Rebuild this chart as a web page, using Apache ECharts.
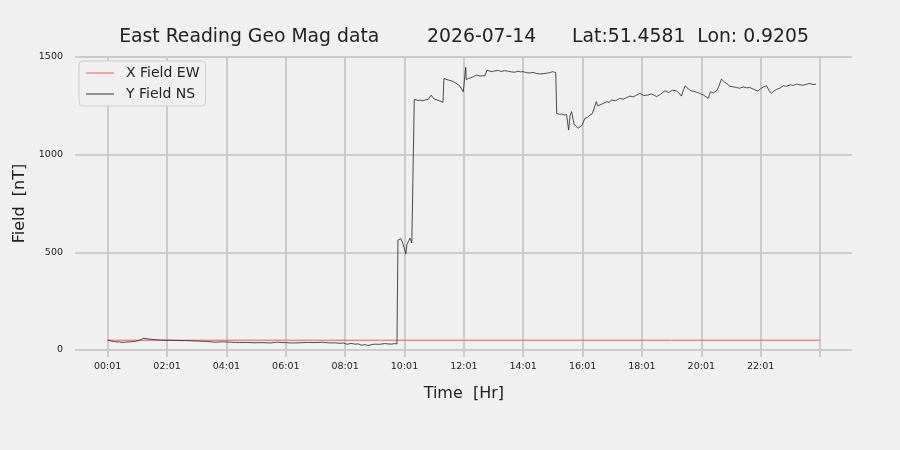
<!DOCTYPE html>
<html>
<head>
<meta charset="utf-8">
<script src="https://cdn.jsdelivr.net/npm/echarts@6/dist/echarts.min.js"></script>
<style>
html,body{margin:0;padding:0;background:#f0f0f0;}
#c{width:900px;height:450px;}
</style>
</head>
<body>
<div id="c"></div>
<script>
// ---- data (minutes after 00:01, field in nT) ----
const tickLabels = ['00:01','02:01','04:01','06:01','08:01','10:01','12:01','14:01','16:01','18:01','20:01','22:01',''];
const xEWMinutes = [0,60,120,180,240,300,360,420,480,540,600,660,720,780,840,900,960,1020,1080,1140,1200,1260,1320,1380,1440];
const xEWValues  = [50,50,50,50,50,50,50,50,50,50,50,50,50,50,50,50,50,50,50,50,50,50,50,50,50];
const yNSMinutes = [0,9,14,19,24,29,34,39,47,55,60,65,73,80,86,96,106,116,126,140,156,170,187,200,217,232,247,258,267,280,298,312,328,343,358,372,389,404,419,434,449,460,470,477,484,492,500,507,514,520,526,533,540,550,560,568,575,580,585,
  587,590,593,597,601,603,605,609,611,615,619,
  620,624,627,632,637,642,648,654,660,664,668,673,678,
  680,686,692,698,705,712,719,723,724,725,730,734,740,746,754,763,
  767,772,778,783,790,796,803,810,816,823,830,835,840,847,854,860,867,874,882,890,895,900,906,
  908,913,918,923,928,932,935,938,943,947,951,955,959,965,970,975,980,983,988,991,995,1002,1009,1014,1019,1027,1035,1042,1049,1056,1063,1070,1076,1084,1092,1100,1110,1118,1127,1134,1142,1150,1155,1160,1164,1168,1174,1180,1188,1197,1205,1214,1219,1225,1232,1236,1241,1248,1253,1258,1264,1271,1278,1285,1292,1298,1306,1315,1320,1326,1332,1337,1342,1347,1352,1359,1366,1373,1380,1386,1393,1400,1406,1413,1419,1426,1432,1438];
const yNSValues  = [51,45,43,41,42,38,40,41,42,44,47,50,60,57,55,53,51,50,50,49,48,47,45,44,40,42,40,39,38,39,37,38,36,40,38,36,37,39,38,40,36,37,34,36,29,34,30,31,24,28,23,27,30,29,33,31,30,33,31,
  563,568,570,545,555,491,540,560,573,548,550,
  1283,1280,1278,1279,1276,1280,1283,1305,1285,1281,1278,1274,1268,
  1390,1384,1380,1375,1365,1352,1322,1330,1447,1385,1390,1395,1400,1407,1403,1405,
  1433,1428,1425,1429,1431,1426,1430,1427,1424,1422,1427,1424,1425,1420,1418,1421,1416,1413,1415,1418,1421,1425,1420,
  1211,1207,1208,1203,1205,1126,1200,1220,1157,1150,1135,1140,1150,1186,1190,1203,1210,1215,1271,1250,1254,1262,1271,1268,1280,1276,1288,1284,1292,1300,1296,1306,1314,1303,1305,1311,1297,1310,1327,1318,1330,1327,1316,1300,1330,1353,1336,1327,1322,1314,1305,1288,1322,1316,1330,1352,1387,1370,1362,1350,1348,1344,1340,1347,1342,1344,1335,1325,1338,1346,1353,1330,1314,1325,1334,1340,1353,1350,1358,1354,1361,1357,1356,1360,1365,1359,1361];
const yTicks = [0,500,1000,1500];

const zip = (a,b) => a.map((v,i)=>[v,b[i]]);
const FONT = 'DejaVu Sans';
const GRIDC = '#cbcbcb';

const chart = echarts.init(document.getElementById('c'), null, {renderer:'canvas'});
chart.setOption({
  animation:false,
  backgroundColor:'#f0f0f0',
  textStyle:{fontFamily:FONT},
  title:{
    text:'East Reading Geo Mag data        2026-07-14      Lat:51.4581  Lon: 0.9205',
    left:459, top:23, textAlign:'center',
    textStyle:{fontFamily:FONT, fontSize:18.8, fontWeight:'normal', color:'#222'}
  },
  legend:{
    left:79, top:61, orient:'vertical',
    backgroundColor:'#f0f0f0', borderColor:'#cccccc', borderWidth:1, borderRadius:4,
    padding:[5,6,5,7], itemGap:7, itemWidth:28, itemHeight:1, icon:'rect',
    textStyle:{fontFamily:FONT, fontSize:14, color:'#222', lineHeight:14, padding:[0,0,0,7]},
    data:[{name:'X Field EW', itemStyle:{color:'#ff5555'}},{name:'Y Field NS', itemStyle:{color:'#333'}}]
  },
  grid:[
    {left:75, right:48, top:57, bottom:100},
    {left:107.7, right:80, top:57, bottom:100}
  ],
  xAxis:[
    {gridIndex:0, type:'value', min:-66, max:1505, show:false, splitLine:{show:false}},
    {gridIndex:1, type:'value', min:0, max:1440, interval:120,
     axisLine:{show:false},
     axisTick:{show:true, length:7, lineStyle:{color:GRIDC, width:2}},
     splitLine:{show:true, lineStyle:{color:GRIDC, width:2}},
     axisLabel:{fontFamily:FONT, fontSize:9.5, color:'#222', margin:12,
       formatter:(v)=>tickLabels[Math.round(v/120)] || ''},
     name:'Time  [Hr]', nameLocation:'middle', nameGap:36,
     nameTextStyle:{fontFamily:FONT, fontSize:16, color:'#222'}
    }
  ],
  yAxis:[
    {gridIndex:0, type:'value', min:yTicks[0], max:yTicks[yTicks.length-1], interval:500,
     axisLine:{show:false}, axisTick:{show:false},
     splitLine:{show:true, lineStyle:{color:GRIDC, width:2}},
     axisLabel:{fontFamily:FONT, fontSize:9.5, color:'#222', margin:12, formatter:(v)=>String(v)},
     name:'Field  [nT]', nameLocation:'middle', nameGap:35, nameRotate:90,
     nameTextStyle:{fontFamily:FONT, fontSize:16, color:'#222'}
    },
    {gridIndex:1, type:'value', min:0, max:1500, show:false, splitLine:{show:false}}
  ],
  series:[
    {name:'X Field EW', type:'line', xAxisIndex:0, yAxisIndex:0, showSymbol:false, symbol:'none',
     data:zip(xEWMinutes,xEWValues), lineStyle:{color:'#ff5555', width:1}, itemStyle:{color:'#ff5555'}},
    {name:'Y Field NS', type:'line', xAxisIndex:0, yAxisIndex:0, showSymbol:false, symbol:'none',
     data:zip(yNSMinutes,yNSValues), lineStyle:{color:'#222', width:0.8}, itemStyle:{color:'#333'}}
  ]
});
</script>
</body>
</html>
